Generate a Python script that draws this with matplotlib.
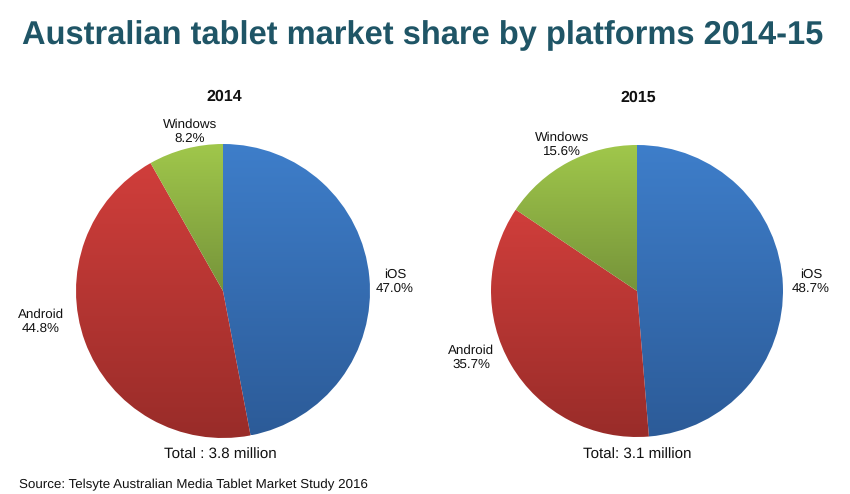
import numpy as np
import matplotlib
matplotlib.use("Agg")
import matplotlib.pyplot as plt
from matplotlib.colors import LinearSegmentedColormap

plt.rcParams["font.family"] = ["Liberation Sans", "DejaVu Sans"]
plt.rcParams["text.hinting"] = "no_hinting"

W, H = 850, 494

platforms = ["iOS", "Android", "Windows"]
share_2014 = [47.0, 44.8, 8.2]
share_2015 = [48.7, 35.7, 15.6]

# top / bottom colour of each wedge gradient
GRADIENTS = [("#3e7eca", "#2c5b98"), ("#d03e3b", "#992c29"), ("#a0c74b", "#76943a")]

fig = plt.figure(figsize=(W / 100, H / 100), dpi=100, facecolor="white")


def px(x, y, s, size, **kw):
    # text placed by reference pixel position
    return fig.text(x / W, 1 - y / H, s, fontsize=size, ha="center", va="center",
                    color=kw.pop("color", "#111111"), linespacing=1.22, **kw)


def draw_pie(cx, cy, r, values, title, title_y, total, total_x, total_y, label_pos):
    ax = fig.add_axes([(cx - r) / W, 1 - (cy + r) / H, 2 * r / W, 2 * r / H])
    wedges, _ = ax.pie(values, startangle=90, counterclock=False, radius=1.0)
    for wedge, (top, bottom) in zip(wedges, GRADIENTS):
        wedge.set_facecolor("none")
        wedge.set_edgecolor("none")
        x0, y0, x1, y1 = wedge.get_path().get_extents(wedge.get_patch_transform()).extents
        cmap = LinearSegmentedColormap.from_list("g", [top, bottom])
        im = ax.imshow(np.linspace(0, 1, 256).reshape(-1, 1), cmap=cmap, aspect="auto",
                       extent=(x0, x1, y0, y1), origin="upper", zorder=1)
        im.set_clip_path(wedge)
    ax.set_xlim(-1, 1)
    ax.set_ylim(-1, 1)
    ax.axis("off")

    px(cx + 1, title_y, title, 11.5, weight="bold")
    px(total_x, total_y, total, 10.9)
    for name, val, (lx, ly) in zip(platforms, values, label_pos):
        px(lx, ly, f"{name}\n{val:.1f}%", 9.6)


px(423, 36, "Australian tablet market share by platforms 2014-15", 23.5,
   weight="bold", color="#1f5566")

draw_pie(223, 291, 147, share_2014, "2014", 97, "Total : 3.8 million", 220, 455,
         [(395, 281.5), (41, 321.5), (190, 131.5)])
draw_pie(637, 291, 146, share_2015, "2015", 98, "Total: 3.1 million", 637, 455,
         [(811, 281.5), (471, 357.5), (562, 144.5)])

fig.text(19 / W, 1 - 485 / H, "Source: Telsyte Australian Media Tablet Market Study 2016",
         fontsize=9.63, ha="left", va="center", color="#111111")

fig.savefig("out.png", dpi=100)
